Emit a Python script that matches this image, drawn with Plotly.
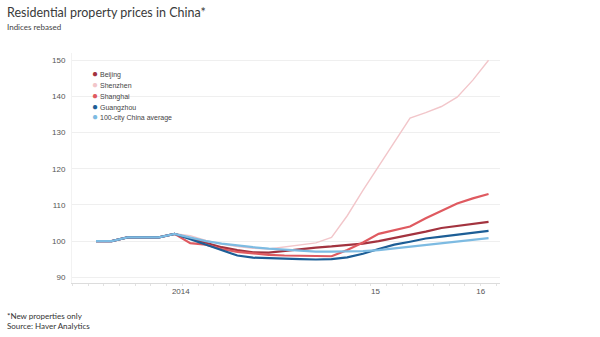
import plotly.graph_objects as go

# monthly index positions (0 = first observation)
months = list(range(26))

beijing = [100, 100, 101, 101, 101, 102, 100.8, 99.5, 98.3, 97.5, 96.9, 96.8, 97.3, 97.8, 98.2,
           98.5, 98.9, 99.3, 100.0, 100.8, 101.6, 102.6, 103.6, 104.2, 104.7, 105.3]
shenzhen = [100, 100, 101, 101, 101, 102, 101.5, 100.2, 99.2, 98.5, 98.0, 97.8, 98.3, 98.8, 99.5,
            101.0, 107.0, 114.0, 120.6, 127.3, 134.0, 135.5, 137.2, 139.8, 144.5, 150.0]
shanghai = [100, 100, 101, 101, 101, 102, 99.4, 99.0, 97.8, 97.0, 96.5, 96.2, 96.0, 96.0, 95.8,
            95.8, 97.5, 99.6, 102.0, 103.0, 104.0, 106.3, 108.4, 110.4, 111.8, 113.0]
guangzhou = [100, 100, 101, 101, 101, 102, 100.5, 98.8, 97.3, 96.0, 95.4, 95.2, 95.1, 95.0, 94.9,
             95.0, 95.5, 96.5, 97.8, 99.0, 99.8, 100.7, 101.2, 101.7, 102.3, 102.8]
china_avg = [100, 100, 101, 101, 101, 102, 101.0, 100.0, 99.3, 98.7, 98.3, 97.9, 97.6, 97.3, 97.1,
             97.1, 97.1, 97.2, 97.5, 98.0, 98.4, 98.9, 99.3, 99.8, 100.3, 100.8]

names = ["Beijing", "Shenzhen", "Shanghai", "Guangzhou", "100-city China average"]
colors = ["#a3333f", "#f2c6ca", "#df5a60", "#1d5e96", "#7dbbe2"]
widths = [2.2, 1.4, 2.2, 2.2, 2.2]
series = [beijing, shenzhen, shanghai, guangzhou, china_avg]

tick_vals = [5.4, 17.8, 24.5]
tick_text = ["2014", "15", "16"]

fig = go.Figure()
draw_order = [1, 0, 2, 3, 4]
for k in draw_order:
    fig.add_trace(go.Scatter(x=months, y=series[k], mode="lines", name=names[k],
                             line=dict(color=colors[k], width=widths[k]),
                             showlegend=False, hoverinfo="skip"))

# legend as dot + label annotations
for k, (nm, col) in enumerate(zip(names, colors)):
    fig.add_annotation(xref="paper", yref="paper", x=0.041, y=0.909 - k * 0.0465,
                       xanchor="left", yanchor="middle", showarrow=False,
                       text=f"<span style='color:{col};font-size:10px'>●</span> {nm}",
                       font=dict(family="Liberation Sans, Arial", size=7, color="#444"))

fig.add_annotation(xref="paper", yref="paper", x=-0.157, y=1.178, xanchor="left", yanchor="middle",
                   text="Residential property prices in China*", showarrow=False,
                   font=dict(family="Lato", size=12.5, color="#3a3a3a"))
fig.add_annotation(xref="paper", yref="paper", x=-0.157, y=1.115, xanchor="left", yanchor="middle",
                   text="Indices rebased", showarrow=False,
                   font=dict(family="Lato", size=8, color="#444"))
fig.add_annotation(xref="paper", yref="paper", x=-0.157, y=-0.115, xanchor="left", yanchor="top",
                   text="*New properties only<br>Source: Haver Analytics", showarrow=False, align="left",
                   font=dict(family="Lato", size=8, color="#333"))

fig.update_layout(
    width=600, height=337,
    margin=dict(l=72, r=100, t=53, b=54),
    paper_bgcolor="white", plot_bgcolor="white",
    showlegend=False,
)
fig.update_xaxes(range=[-1.53, 25.73], tickmode="array", tickvals=tick_vals, ticktext=tick_text,
                 showgrid=False, zeroline=False, showline=True, linecolor="#dcdcdc", linewidth=1,
                 ticks="", ticklen=0,
                 tickfont=dict(family="Liberation Sans, Arial", size=8, color="#555"),
                 minor=dict(ticks="outside", tick0=-0.5, dtick=1, ticklen=2, tickcolor="#e2e2e2"))
fig.update_yaxes(range=[88.4, 152], tickmode="array", tickvals=[90, 100, 110, 120, 130, 140, 150],
                 showgrid=True, gridcolor="#efefef", zeroline=False, showline=True, linecolor="#f2f2f2",
                 ticks="", ticklabelstandoff=4,
                 tickfont=dict(family="Liberation Sans, Arial", size=8, color="#555"))

fig.write_html("out.html")
